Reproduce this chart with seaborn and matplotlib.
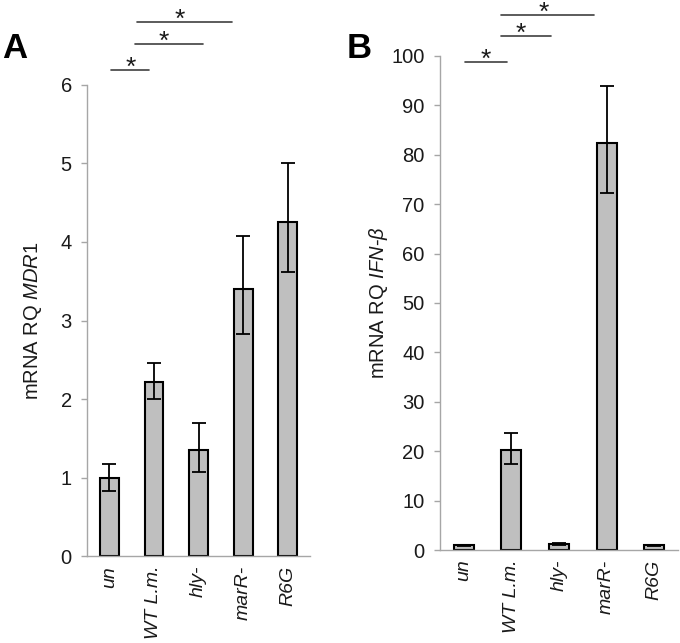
import numpy as np
import pandas as pd
import matplotlib
matplotlib.use("Agg")
import matplotlib.pyplot as plt
import seaborn as sns

# data
groups = ["un", "WT L.m.", "hly-", "marR-", "R6G"]

mdr1_mean = [1.0, 2.22, 1.35, 3.40, 4.25]
mdr1_low = [0.83, 2.00, 1.07, 2.83, 3.62]
mdr1_high = [1.17, 2.46, 1.70, 4.08, 5.00]

ifn_mean = [1.0, 20.3, 1.2, 82.4, 1.0]
ifn_low = [0.9, 17.4, 1.0, 72.3, 0.9]
ifn_high = [1.1, 23.6, 1.4, 93.9, 1.1]

# significance brackets: (x start, x end, y, star x)
sig_a = [(0.04, 0.90, 6.19, 0.49), (0.58, 2.09, 6.52, 1.21), (0.63, 2.74, 6.80, 1.57)]
sig_b = [(0.02, 0.90, 98.8, 0.46), (0.79, 1.84, 104.1, 1.20), (0.79, 2.74, 108.2, 1.68)]

sns.set_style("white")
plt.rcParams["font.family"] = ["Liberation Sans", "DejaVu Sans"]
plt.rcParams["mathtext.fontset"] = "custom"
plt.rcParams["mathtext.rm"] = "Liberation Sans"
plt.rcParams["mathtext.it"] = "Liberation Sans:italic"

fig = plt.figure(figsize=(6.8, 6.43), dpi=100)
ax_a = fig.add_axes([0.128, 0.135, 0.328, 0.733])
ax_b = fig.add_axes([0.647, 0.1446, 0.350, 0.7684])

GREY = "#bfbfbf"
AXC = "#a6a6a6"


def draw_panel(ax, mean, low, high, ymax, ystep, ylabel, sigs, labelpad):
    df = pd.DataFrame({"group": groups, "value": mean})
    sns.barplot(data=df, x="group", y="value", color=GREY, width=0.42,
                edgecolor="black", linewidth=1.5, saturation=1, ax=ax)
    x = np.arange(len(groups))
    yerr = [np.array(mean) - np.array(low), np.array(high) - np.array(mean)]
    ax.errorbar(x, mean, yerr=yerr, fmt="none", ecolor="black",
                elinewidth=1.3, capsize=5, capthick=1.3)
    ax.set_xlim(-0.5, len(groups) - 0.5)
    ax.set_ylim(0, ymax)
    ax.set_yticks(np.arange(0, ymax + ystep / 2, ystep))
    ax.set_xticks(x)
    ax.set_xticklabels(groups, rotation=90, style="italic", fontsize=14, color="#1a1a1a")
    ax.set_xticks(np.arange(-0.5, len(groups)), minor=True)
    ax.tick_params(axis="x", which="major", length=0, pad=7)
    ax.tick_params(axis="x", which="minor", length=4, color=AXC, width=1, direction="out")
    ax.tick_params(axis="y", length=4, color=AXC, width=1, direction="out",
                   labelsize=14.5, pad=7, left=True, labelcolor="#1a1a1a")
    ax.set_xlabel("")
    ax.set_ylabel(ylabel, fontsize=14.5, labelpad=labelpad, color="#1a1a1a")
    sns.despine(ax=ax)
    for side in ["left", "bottom"]:
        ax.spines[side].set_color(AXC)
        ax.spines[side].set_linewidth(1)
    for x0, x1, y, xs in sigs:
        ax.plot([x0, x1], [y, y], color="#404040", lw=1.2, clip_on=False)
        ax.annotate("*", (xs, y), xytext=(0, -3.5), textcoords="offset points",
                    ha="center", va="baseline", fontsize=19, color="#1a1a1a",
                    annotation_clip=False)


draw_panel(ax_a, mdr1_mean, mdr1_low, mdr1_high, 6, 1,
           r"mRNA RQ $\it{MDR1}$", sig_a, 12)
draw_panel(ax_b, ifn_mean, ifn_low, ifn_high, 100, 10,
           r"mRNA RQ $\it{IFN}$-$\it{β}$", sig_b, 1)

fig.text(0.003, 0.91, "A", fontsize=25, fontweight="bold", va="baseline", color="black")
fig.text(0.51, 0.91, "B", fontsize=25, fontweight="bold", va="baseline", color="black")

fig.savefig("out.png", dpi=100)
